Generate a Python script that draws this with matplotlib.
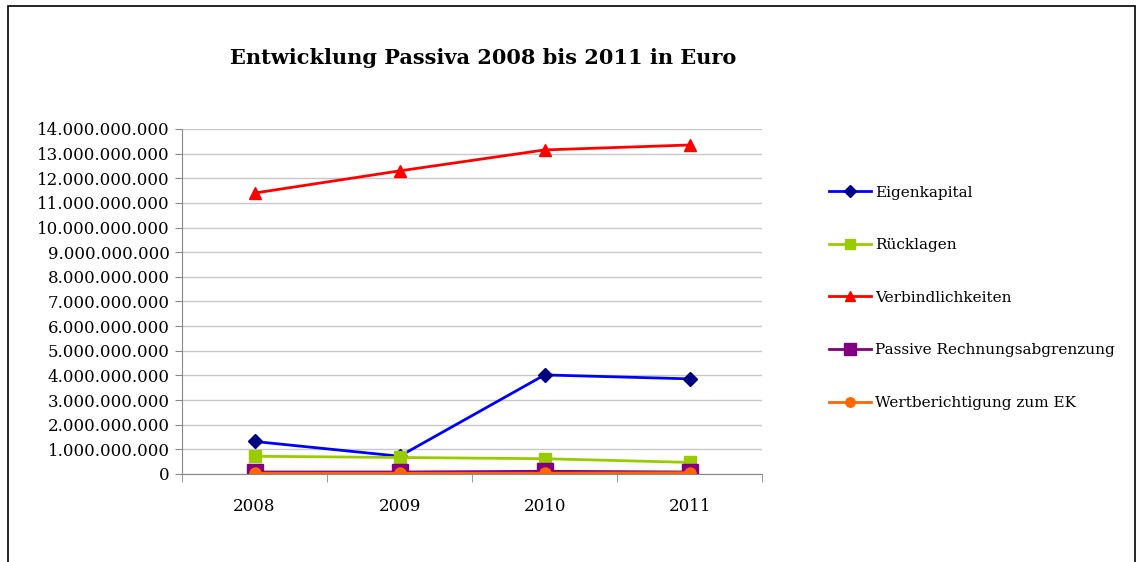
import matplotlib.pyplot as plt
from matplotlib.patches import Rectangle
from matplotlib.ticker import FuncFormatter

plt.rcParams['font.family'] = ['DejaVu Serif']

# Daten (Euro)
jahre = ['2008', '2009', '2010', '2011']
eigenkapital = [1.32e9, 0.72e9, 4.02e9, 3.86e9]
ruecklagen = [0.72e9, 0.67e9, 0.62e9, 0.47e9]
verbindlichkeiten = [11.40e9, 12.30e9, 13.15e9, 13.35e9]
passive_rap = [0.08e9, 0.08e9, 0.11e9, 0.08e9]
wertberichtigung = [0.03e9, 0.03e9, 0.03e9, 0.05e9]

fig = plt.figure(figsize=(11.39, 5.62), dpi=100)
ax = fig.add_axes([0.1598, 0.1566, 0.5094, 0.6139])

x = range(len(jahre))
ax.plot(x, eigenkapital, color='#0000FF', lw=2, marker='D', ms=7,
        mfc='#000080', mec='#000080', label='Eigenkapital')
ax.plot(x, ruecklagen, color='#99CC00', lw=2, marker='s', ms=8,
        mfc='#99CC00', mec='#99CC00', label='Rücklagen')
ax.plot(x, verbindlichkeiten, color='#FF0000', lw=2, marker='^', ms=9,
        mfc='#FF0000', mec='#FF0000', label='Verbindlichkeiten')
ax.plot(x, passive_rap, color='#800080', lw=2, marker='s', ms=11,
        mfc='#800080', mec='#800080', label='Passive Rechnungsabgrenzung')
ax.plot(x, wertberichtigung, color='#FF6600', lw=2, marker='o', ms=8,
        mfc='#FF6600', mec='#FF6600', label='Wertberichtigung zum EK')

ax.set_xlim(-0.5, 3.5)
ax.set_ylim(0, 14e9)
ax.set_yticks([i * 1e9 for i in range(15)])
ax.yaxis.set_major_formatter(FuncFormatter(lambda v, p: f'{int(round(v)):,}'.replace(',', '.')))
ax.set_xticks(list(x))
ax.set_xticklabels(jahre)
ax.set_xticks([-0.5, 0.5, 1.5, 2.5, 3.5], minor=True)
ax.tick_params(axis='x', which='major', length=0, pad=17, labelsize=12)
ax.tick_params(axis='x', which='minor', length=6, color='#888888')
ax.tick_params(axis='y', length=5, color='#888888', labelsize=12, pad=4)
ax.grid(axis='y', color='#c8c8c8', lw=1)
ax.set_axisbelow(True)
for s in ['top', 'right']:
    ax.spines[s].set_visible(False)
for s in ['left', 'bottom']:
    ax.spines[s].set_color('#888888')

fig.text(0.424, 0.897, 'Entwicklung Passiva 2008 bis 2011 in Euro',
         ha='center', va='center', fontsize=15, fontweight='bold')

ax.legend(loc='upper left', bbox_to_anchor=(1.091, 0.876), frameon=False,
          fontsize=11, labelspacing=2.53, handlelength=2.75, handletextpad=0.3,
          markerscale=0.85)

fig.patches.append(Rectangle((8 / 1139, -0.05), 1127 / 1139, 1.05 - 6 / 562,
                             transform=fig.transFigure, fill=False,
                             edgecolor='black', lw=1.2))

fig.savefig('out.png', dpi=100)
